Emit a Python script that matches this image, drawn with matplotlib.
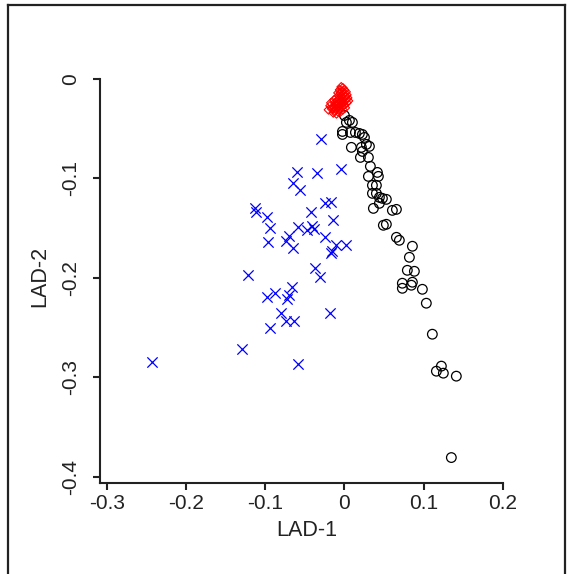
import matplotlib
matplotlib.use("Agg")
import matplotlib.pyplot as plt
from matplotlib.lines import Line2D

# ---- data ----
circle_x = [0.0000, 0.0063, 0.0025, 0.0101, -0.0025, -0.0025, 0.0076, 0.0139, 0.0189, 0.0227,
            0.0253, 0.0088, 0.0215, 0.0227, 0.0278, 0.0316, 0.0202, 0.0303, 0.0328, 0.0303,
            0.0417, 0.0429, 0.0354, 0.0404, 0.0354, 0.0404, 0.0442, 0.0480, 0.0530, 0.0442,
            0.0366, 0.0606, 0.0657, 0.0492, 0.0530, 0.0657, 0.0694, 0.0859, 0.0821, 0.0795,
            0.0884, 0.0732, 0.0732, 0.0859, 0.0846, 0.0985, 0.1035, 0.1111, 0.1225, 0.1162,
            0.1250, 0.1414, 0.1351]
circle_y = [-0.0367, -0.0417, -0.0437, -0.0437, -0.0528, -0.0558, -0.0538, -0.0538, -0.0548, -0.0558,
            -0.0588, -0.0688, -0.0688, -0.0729, -0.0658, -0.0678, -0.0789, -0.0789, -0.0879, -0.0980,
            -0.0940, -0.0980, -0.1070, -0.1070, -0.1151, -0.1151, -0.1191, -0.1201, -0.1211, -0.1251,
            -0.1302, -0.1322, -0.1312, -0.1472, -0.1462, -0.1593, -0.1623, -0.1683, -0.1794, -0.1925,
            -0.1935, -0.2055, -0.2106, -0.2045, -0.2075, -0.2116, -0.2256, -0.2568, -0.2889, -0.2940,
            -0.2960, -0.2990, -0.3809]

cross_x = [-0.2437, -0.1288, -0.1212, -0.1124, -0.1111, -0.0972, -0.0934, -0.0960, -0.0972, -0.0871,
           -0.0934, -0.0795, -0.0732, -0.0631, -0.0657, -0.0694, -0.0720, -0.0732, -0.0694, -0.0644,
           -0.0644, -0.0556, -0.0593, -0.0581, -0.0467, -0.0404, -0.0379, -0.0417, -0.0341, -0.0290,
           -0.0038, -0.0240, -0.0164, -0.0139, -0.0240, -0.0101, 0.0025, -0.0164, -0.0152, -0.0366,
           -0.0303, -0.0177, -0.0581]
cross_y = [-0.2849, -0.2719, -0.1975, -0.1302, -0.1342, -0.1392, -0.1503, -0.1643, -0.2196, -0.2156,
           -0.2508, -0.2357, -0.2437, -0.2437, -0.2095, -0.2176, -0.2216, -0.1633, -0.1583, -0.1704,
           -0.1050, -0.1121, -0.0940, -0.1492, -0.1523, -0.1482, -0.1513, -0.1342, -0.0950, -0.0608,
           -0.0910, -0.1251, -0.1241, -0.1422, -0.1593, -0.1673, -0.1673, -0.1754, -0.1734, -0.1905,
           -0.1995, -0.2357, -0.2869]

diamond_x = [-0.004, -0.002, 0.000, -0.006, -0.003, 0.002, -0.008, -0.005, -0.001, 0.003,
             -0.007, -0.004, 0.001, 0.004, -0.010, -0.006, -0.002, 0.002, -0.009, -0.005,
             -0.001, 0.003, -0.012, -0.008, -0.004, 0.000, -0.011, -0.007, -0.003, 0.001,
             -0.014, -0.010, -0.006, -0.002, -0.016, -0.012, -0.008, -0.018, -0.014, -0.010,
             -0.020, -0.015, -0.011, -0.017, -0.013, -0.009, -0.005, 0.005]
diamond_y = [-0.008, -0.009, -0.011, -0.011, -0.012, -0.013, -0.014, -0.014, -0.015, -0.016,
             -0.017, -0.017, -0.018, -0.019, -0.019, -0.020, -0.020, -0.021, -0.022, -0.023,
             -0.023, -0.024, -0.024, -0.025, -0.026, -0.026, -0.027, -0.028, -0.028, -0.029,
             -0.028, -0.030, -0.031, -0.031, -0.030, -0.032, -0.033, -0.027, -0.034, -0.035,
             -0.031, -0.029, -0.026, -0.024, -0.021, -0.029, -0.033, -0.022]

x_ticks = [-0.3, -0.2, -0.1, 0.0, 0.1, 0.2]
x_tick_labels = ["-0.3", "-0.2", "-0.1", "0", "0.1", "0.2"]
y_ticks = [0.0, -0.1, -0.2, -0.3, -0.4]
y_tick_labels = ["0", "-0.1", "-0.2", "-0.3", "-0.4"]
x_label = "LAD-1"
y_label = "LAD-2"

# ---- figure ----
W, H = 567, 574
fig = plt.figure(figsize=(W / 100, H / 100), dpi=100)
plt.rcParams['font.family'] = ['Liberation Sans', 'DejaVu Sans']
text_color = '#222222'

xlim = (-0.3088, 0.213)
ylim = (-0.4065, 0.010)
left_px, right_px = 100, 513
bottom_px = 483
top_px = 79 - 0.010 * 995
ax = fig.add_axes([left_px / W, 1 - bottom_px / H, (right_px - left_px) / W, (bottom_px - top_px) / H])
ax.set_xlim(*xlim)
ax.set_ylim(*ylim)

ax.scatter(circle_x, circle_y, s=48, facecolors='none', edgecolors='black', linewidths=0.9, zorder=3)
ax.scatter(cross_x, cross_y, s=55, marker='x', color='#0000ff', linewidths=0.9, zorder=3)
ax.scatter(diamond_x, diamond_y, s=20, marker='D', facecolors='none', edgecolors='#ff0000', linewidths=0.8, zorder=4)

for s in ['top', 'right']:
    ax.spines[s].set_visible(False)
for s in ['left', 'bottom']:
    ax.spines[s].set_linewidth(1.5)
    ax.spines[s].set_color(text_color)
ax.spines['left'].set_bounds(ylim[0], 0.0)
ax.spines['bottom'].set_bounds(xlim[0], 0.2)

ax.set_xticks(x_ticks)
ax.set_xticklabels(x_tick_labels)
ax.set_yticks(y_ticks)
ax.set_yticklabels(y_tick_labels, rotation=90, va='center')
ax.tick_params(axis='both', length=5, width=1.5, color=text_color, labelcolor=text_color, labelsize=15)
ax.tick_params(axis='x', pad=3)
ax.tick_params(axis='y', pad=9)

fig.text((left_px + right_px) / 2 / W, 1 - 531 / H, x_label, ha='center', va='center',
         fontsize=15.5, color=text_color)
fig.text(40 / W, 1 - (bottom_px + top_px) / 2 / H, y_label, ha='center', va='center',
         rotation=90, fontsize=15.5, color=text_color)

# outer frame
frame = [Line2D([8 / W, 8 / W], [-0.01, 1 - 5 / H]),
         Line2D([8 / W, 565 / W], [1 - 5 / H, 1 - 5 / H]),
         Line2D([565 / W, 565 / W], [1 - 5 / H, -0.01])]
for ln in frame:
    ln.set_transform(fig.transFigure)
    ln.set_color(text_color)
    ln.set_linewidth(1.6)
    fig.add_artist(ln)

fig.savefig("out.png", dpi=100)
